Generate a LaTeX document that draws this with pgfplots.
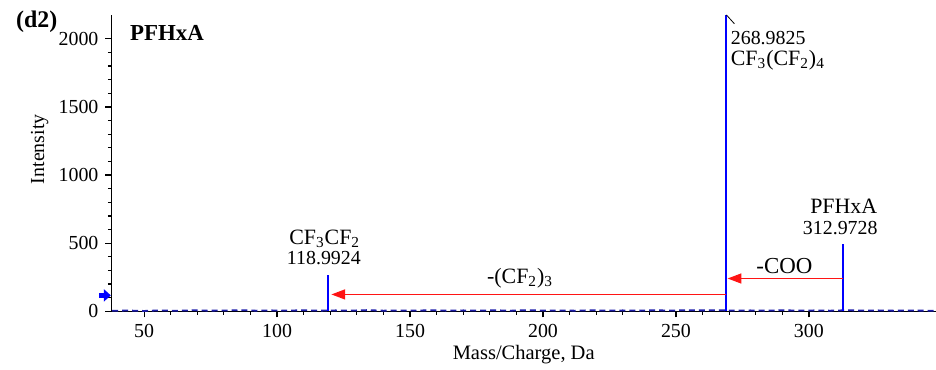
\documentclass[border=0pt]{standalone}
\usepackage{pgfplots}
\pgfplotsset{compat=1.18}
\usepackage{fontspec}
\setmainfont{Liberation Serif}
\usetikzlibrary{arrows.meta}
\definecolor{pk}{RGB}{0,0,255}
\definecolor{ar}{RGB}{255,20,20}
\definecolor{nz}{RGB}{30,30,170}
\newcommand{\fs}[1]{\fontsize{#1}{#1}\selectfont}
\begin{document}
\fs{10pt}
\begin{tikzpicture}
\begin{axis}[
  scale only axis, width=414.5pt, height=149pt,
  at={(0,0)}, anchor=south west,
  xmin=37.7, xmax=347.8, ymin=0, ymax=2175,
  axis x line*=bottom, axis y line*=left,
  axis line style={black, line width=0.7pt},
  xtick={50,100,...,300}, ytick={0,500,...,2000},
  minor x tick num=4, minor y tick num=4,
  tick align=outside, major tick length=3pt, minor tick length=1.8pt,
  tick style={black, line width=0.6pt},
  /pgf/number format/assume math mode=true,
  /pgf/number format/1000 sep={},
  ticklabel style={font=\fs{10pt}},
  xlabel={Mass/Charge, Da}, ylabel={Intensity},
  xlabel style={font=\fs{10.3pt}, yshift=3pt},
  ylabel style={font=\fs{10pt}, at={(axis description cs:-0.0869,0.547)}, anchor=center},
  clip=false,
]
\addplot[nz, line width=0.9pt, densely dashed] coordinates {
(38,4)(44,6)(50,3)(56,7)(62,4)(68,8)(74,5)(80,6)(86,9)(92,5)(98,7)(104,6)(110,8)(116,5)(122,7)(128,6)(134,9)(140,5)(146,7)(152,6)(158,8)(164,5)(170,7)(176,6)(182,8)(188,5)(194,9)(200,6)(206,7)(212,5)(218,8)(224,6)(230,7)(236,5)(242,8)(248,6)(254,9)(260,7)(266,8)(272,6)(278,7)(284,5)(290,8)(296,6)(302,7)(308,5)(314,8)(320,6)(326,7)(332,5)(338,6)(344,5)(347.8,4)};
\addplot[draw=pk, line width=1pt, mark=none, solid] coordinates {(118.9924,0) (118.9924,268)};
\addplot[draw=pk, line width=1pt, mark=none, solid] coordinates {(268.9825,0) (268.9825,2175)};
\addplot[draw=pk, line width=1pt, mark=none, solid] coordinates {(312.9728,0) (312.9728,497)};
\draw[black, line width=0.4pt] (axis cs:268.98,2175) -- (axis cs:272,2110);
\draw[ar, line width=0.9pt, -{Triangle[length=7pt,width=5pt]}] (axis cs:312.97,241) -- (axis cs:269.4,241);
\draw[ar, line width=0.9pt, -{Triangle[length=7pt,width=5pt]}] (axis cs:268.98,124) -- (axis cs:120.4,124);
\draw[blue, line width=2.2pt, -{Triangle[length=3.5pt,width=6pt]}] (axis cs:33.2,117) -- (axis cs:37.5,117);
\node[anchor=west, inner sep=0pt, font=\fs{10pt}] at (axis cs:270.5,2007) {268.9825};
\node[anchor=west, inner sep=0pt, font=\fs{11pt}] at (axis cs:270.5,1845) {CF\textsubscript{3}(CF\textsubscript{2})\textsubscript{4}};
\node[inner sep=0pt, font=\fs{11pt}] at (axis cs:313.1,774) {PFHxA};
\node[inner sep=0pt, font=\fs{10pt}] at (axis cs:311.8,613) {312.9728};
\node[inner sep=0pt, font=\fs{11pt}] at (axis cs:117.9,533) {CF\textsubscript{3}CF\textsubscript{2}};
\node[inner sep=0pt, font=\fs{10pt}] at (axis cs:117.6,394) {118.9924};
\node[inner sep=0pt, font=\fs{11pt}] at (axis cs:191.4,245) {-(CF\textsubscript{2})\textsubscript{3}};
\node[inner sep=0pt, font=\fs{11.5pt}] at (axis cs:290.8,330) {-COO};
\node[inner sep=0pt, font=\fs{11.5pt}\bfseries] at (axis cs:58.6,2045) {PFHxA};
\end{axis}
\node[inner sep=0pt, font=\fs{12pt}\bfseries] at (-37.5pt,145.5pt) {(d2)};
\pgfresetboundingbox
\useasboundingbox (-53.5pt,-29pt) rectangle (414.5pt,156.5pt);
\end{tikzpicture}
\end{document}
